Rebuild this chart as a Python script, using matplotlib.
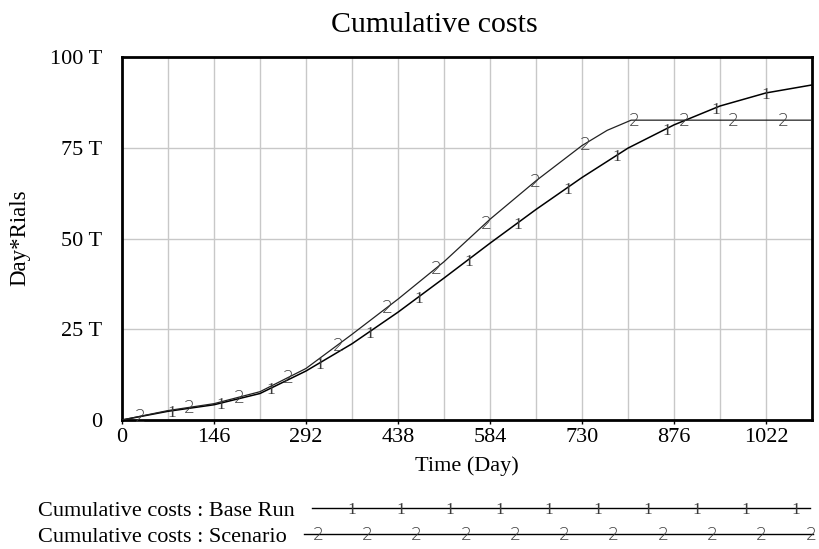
import numpy as np
import matplotlib
matplotlib.use("Agg")
import matplotlib.pyplot as plt

# ---- data (values in T = trillion Rials) ----
days = [0, 73, 146, 219, 292, 365, 438, 511, 584, 657, 730, 803, 876, 949, 1022, 1095]
base_run = [0, 2.4, 4.2, 7.3, 13.5, 21.0, 29.7, 39.1, 48.7, 58.0, 66.8, 74.9, 81.3, 86.5, 90.1, 92.3]
scen_days = [0, 73, 146, 219, 292, 365, 438, 511, 584, 657, 730, 770, 808, 876, 949, 1022, 1095]
scenario = [0, 2.6, 4.5, 7.8, 14.2, 23.6, 33.3, 43.6, 55.3, 65.9, 75.6, 79.8, 82.6, 82.6, 82.6, 82.6, 82.6]

x_ticks = [0, 146, 292, 438, 584, 730, 876, 1022]
y_ticks = [0, 25, 50, 75, 100]
y_tick_labels = ["0", "25 T", "50 T", "75 T", "100 T"]

title = "Cumulative costs"
x_label = "Time (Day)"
y_label = "Day*Rials"
legend_labels = ["Cumulative costs : Base Run", "Cumulative costs : Scenario"]

FONT = "Liberation Serif"
plt.rcParams["font.family"] = [FONT, "DejaVu Serif"]

W, H = 820, 549
fig = plt.figure(figsize=(W / 100, H / 100), dpi=100)
ax = fig.add_axes([122 / W, 1 - 420 / H, (812 - 122) / W, (420 - 57) / H])

ax.set_xlim(0, 1095)
ax.set_ylim(0, 100)

# grid
for gx in np.arange(73, 1095, 73):
    ax.axvline(gx, color="#c8c8c8", lw=1.0, zorder=0)
for gy in y_ticks[1:-1]:
    ax.axhline(gy, color="#c8c8c8", lw=1.0, zorder=0)

ax.plot(days, base_run, color="black", lw=1.1, zorder=3)
ax.plot(scen_days, scenario, color="#222222", lw=0.9, zorder=3)

MK = 12.5
def mark_font(lab):
    return "DejaVu Sans" if lab == "2" else FONT

def put_mark(a, x, y, lab):
    a.annotate(lab, (x, y), xytext=(0, -4.4), textcoords="offset points",
               ha="center", va="baseline", fontsize=MK, color="#3a3a3a",
               family=mark_font(lab), fontweight="light", zorder=4)

# number labels along the lines (Vensim style)
for start, xs, ys, lab in [(79, days, base_run, "1"), (28.5, scen_days, scenario, "2")]:
    md = np.arange(start, 1095, 78.5)
    mv = np.interp(md, xs, ys)
    for d, v in zip(md, mv):
        put_mark(ax, d, v, lab)

ax.set_xticks(x_ticks)
ax.set_xticklabels([str(t) for t in x_ticks], fontsize=16)
ax.set_yticks(y_ticks)
ax.set_yticklabels(y_tick_labels, fontsize=16)
ax.tick_params(axis="y", length=0, pad=14)
ax.tick_params(axis="x", length=3, width=1, direction="out", pad=3)
for s in ax.spines.values():
    s.set_linewidth(2.0)
    s.set_color("black")

fig.text(434 / W, 1 - 25 / H, title, ha="center", va="center", fontsize=21.5, family=FONT)
fig.text(467 / W, 1 - 466 / H, x_label, ha="center", va="center", fontsize=16, family=FONT)
fig.text(20 / W, 1 - 238 / H, y_label, ha="center", va="center", rotation=90, fontsize=16.5, family=FONT)

# legend area
lax = fig.add_axes([0, 0, 1, 1], facecolor="none")
lax.set_xlim(0, W)
lax.set_ylim(H, 0)
lax.axis("off")
rows = [(508, 312, 810, legend_labels[0], "1", np.arange(351.7, 810, 49.3)),
        (534, 304, 813, legend_labels[1], "2", np.arange(318, 818, 49.3))]
for y, x0, x1, txt, lab, pos in rows:
    lax.text(38, y + 7.5, txt, ha="left", va="baseline", fontsize=16, family=FONT)
    lax.plot([x0, x1], [y, y], color="black", lw=1.0)
    for p in pos:
        put_mark(lax, p, y, lab)

fig.savefig("out.png", dpi=100)
